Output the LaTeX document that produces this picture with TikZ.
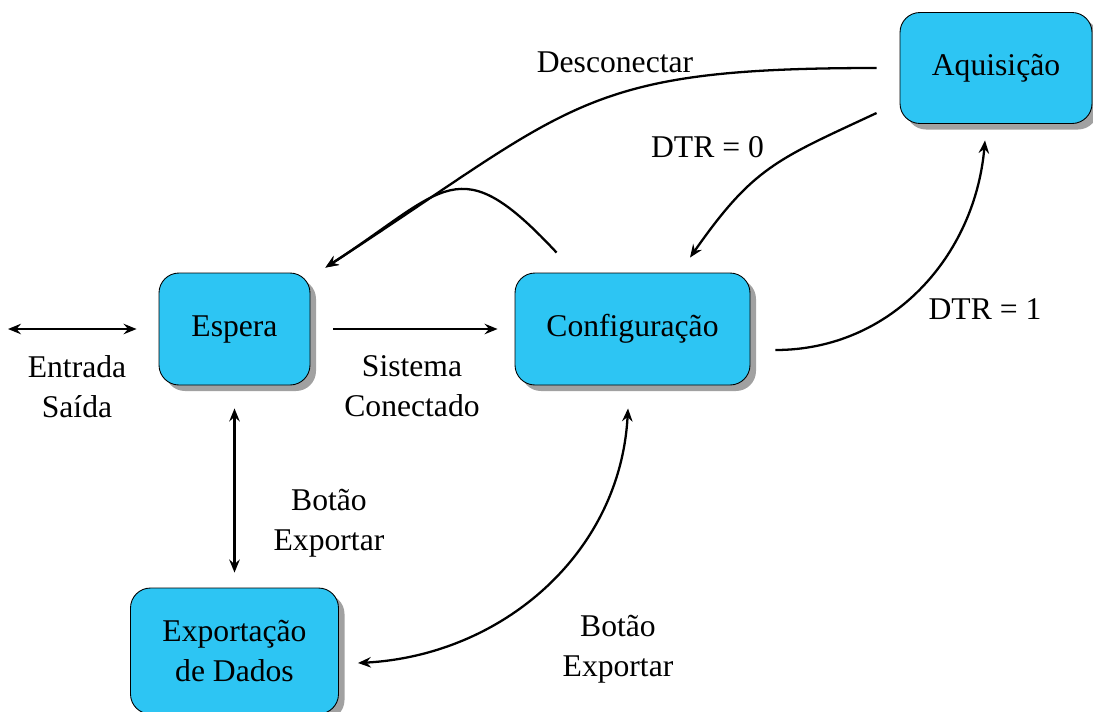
\documentclass[tikz,border=0pt]{standalone}
\usepackage{fontspec}
\setmainfont{Liberation Serif}
\usetikzlibrary{shadows,arrows.meta}
\definecolor{celeste}{RGB}{45,197,243}
\begin{document}
\begin{tikzpicture}[>={Stealth[length=2.6mm,width=2.1mm,inset=.9mm]},font=\fontsize{18}{22.8}\selectfont,
  estado/.style={draw,line width=.5pt,fill=celeste,rounded corners=.4cm,
    align=center,minimum height=2.24cm,
    drop shadow={shadow xshift=.12cm,shadow yshift=-.12cm,fill=black!37,opacity=1}},
  seta/.style={line width=1.3pt}]
\useasboundingbox (0,0) rectangle (21.86,-14.22);
% estados
\node[estado,minimum width=3.02cm] (espera) at (4.69,-6.58) {Espera};
\node[estado,minimum width=4.7cm] (config) at (12.65,-6.58) {Configuração};
\node[estado,minimum width=3.84cm,minimum height=2.22cm] (aquis) at (19.92,-1.36) {Aquisição};
\node[estado,minimum width=4.16cm,minimum height=2.52cm] (export) at (4.69,-13.02) {Exportação\\de Dados};
\coordinate (es) at (0.16,-6.58);

% transicoes
\draw[seta,<->,shorten >=.44cm] (es)--(espera);
\draw[seta,->,shorten <=.46cm,shorten >=.34cm] (espera)--(config);
\draw[seta,<->,shorten <=.46cm,shorten >=.3cm] (espera)--(export);
\draw[seta,<->] ([xshift=-.09cm,yshift=-.46cm]config.south) to[out=-93,in=3] ([xshift=.38cm,yshift=-.24cm]export.east);
\draw[seta,->] ([xshift=.5cm,yshift=-.42cm]config.east) to[out=0,in=-95] ([xshift=-.22cm,yshift=-.33cm]aquis.south);
\draw[seta,->] ([xshift=-.46cm,yshift=-.9cm]aquis.west) to[out=205,in=55,looseness=1.2] ([xshift=1.15cm,yshift=.3cm]config.north);
\draw[seta,->] ([xshift=-.46cm]aquis.west) to[out=180,in=33,looseness=1.3] ([xshift=.3cm,yshift=.1cm]espera.north east);
\draw[seta,->] ([xshift=.84cm,yshift=.4cm]config.north west) to[out=133,in=33,looseness=1.6] ([xshift=.3cm,yshift=.1cm]espera.north east);

% rotulos
\node[align=center] (lbles) at (1.54,-7.73) {Entrada\\Saída};
\node[align=center] (lblsis) at (8.24,-7.73) {Sistema\\Conectado};
\node[align=center] (lblbt1) at (6.58,-10.46) {Botão\\Exportar};
\node[align=center] (lblbt2) at (12.36,-12.98) {Botão\\Exportar};
\node (lbld1) at (19.7,-6.19) {DTR = 1};
\node (lbld0) at (14.15,-2.95) {DTR = 0};
\node (lbldes) at (12.3,-1.25) {Desconectar};
\end{tikzpicture}
\end{document}
